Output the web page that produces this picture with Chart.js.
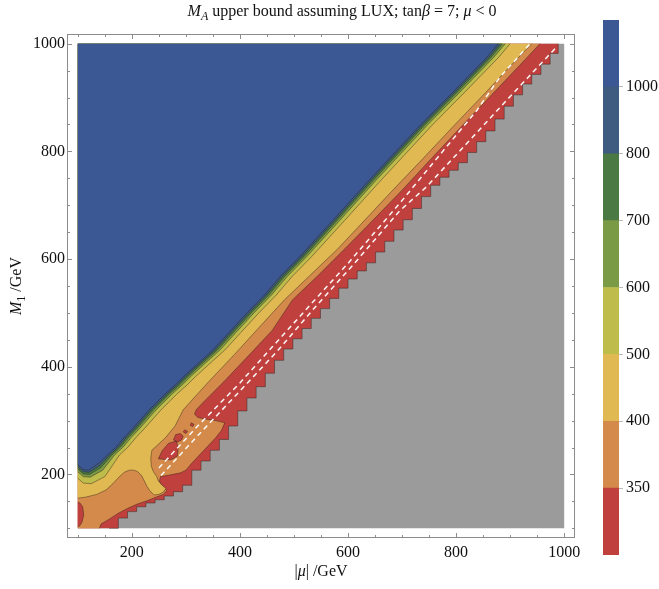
<!DOCTYPE html>
<html>
<head>
<meta charset="utf-8">
<script src="https://cdn.jsdelivr.net/npm/chart.js@4.4.0/dist/chart.umd.min.js"></script>
<style>
  html, body { margin: 0; padding: 0; background: #fff; }
  #wrap { position: relative; width: 659px; height: 589px; }
  #main { position: absolute; left: 0; top: 0; }
  #bar { position: absolute; left: 590px; top: 0; }
</style>
</head>
<body>
<div id="wrap">
  <canvas id="main" width="659" height="589"></canvas>
  <canvas id="bar" width="69" height="589"></canvas>
</div>
<script>
// contour levels and their fill colours (lowest band first)
const levels = [350, 400, 500, 600, 700, 800, 1000];
const bandColors = ['#c0403e', '#d48a4a', '#e1b952', '#bebc4b', '#7b9a45', '#4a7944', '#3f5b7f', '#3b5794'];
const grayColor = '#9b9b9b';

const xTicks = [200, 400, 600, 800, 1000];
const yTicks = [200, 400, 600, 800, 1000];

// points are [|mu|, M1] in GeV
const domain = [[100, 100], [1000, 100], [1000, 1000], [100, 1000]];

// edge of the allowed region (red / gray border), jagged
const grayEdge = [[100, 100], [158, 100], [175, 119], [192, 131], [209, 140], [226, 147], [243, 153], [260, 160],
  [277, 168], [294, 180], [311, 208], [328, 225], [345, 245], [362, 265], [379, 290], [396, 318], [413, 342],
  [430, 363], [447, 388], [464, 412], [481, 433], [498, 452], [515, 471], [532, 490], [549, 508], [566, 527],
  [583, 546], [600, 563], [617, 578], [634, 593], [651, 613], [668, 633], [685, 654], [702, 673], [719, 694],
  [736, 716], [753, 737], [770, 752], [787, 765], [804, 779], [821, 798], [838, 818], [855, 838], [872, 860],
  [889, 884], [906, 905], [923, 925], [940, 943], [957, 962], [974, 982], [989, 1000], [100, 1000]];

const c350 = [[140, 100], [143, 108], [158, 117], [175, 128], [192, 137], [210, 145], [228, 151], [245, 158],
  [258, 163], [265, 170], [255, 180], [251, 187], [253, 196], [270, 199], [290, 203], [300, 208], [310, 220],
  [325, 236], [340, 252], [355, 268], [366, 282], [372, 296], [355, 300], [335, 303], [322, 306], [316, 312],
  [319, 320], [330, 332], [370, 372], [420, 425], [460, 468], [497, 524], [545, 570], [595, 620], [641, 667],
  [700, 728], [760, 793], [820, 857], [880, 920], [930, 973], [955, 1000], [100, 1000], [100, 100]];

const islandLeft = [[100, 103], [104, 105], [108, 112], [111, 125], [109, 140], [104, 147], [100, 149]];
const islandTri = [[249, 229], [256, 244], [268, 258], [282, 262], [286, 250], [284, 234], [272, 227]];
const islandSmall = [[277, 264], [284, 260], [292, 264], [295, 271], [290, 276], [281, 274]];
const islandDot1 = [[295, 279], [300, 276], [303, 280], [298, 283]];
const islandDot2 = [[308, 291], [313, 289], [315, 293], [310, 296]];

const c400 = [[100, 156], [115, 158], [135, 163], [152, 171], [165, 183], [176, 195], [186, 204], [195, 208],
  [204, 208], [211, 205], [218, 198], [222, 190], [228, 178], [233, 170], [241, 162], [250, 163], [258, 167],
  [263, 174], [255, 181], [249, 188], [246, 196], [240, 205], [236, 215], [235, 230], [237, 245], [248, 255],
  [262, 268], [280, 290], [295, 320], [340, 370], [390, 423], [440, 478], [482, 524], [530, 570], [580, 618],
  [626, 667], [680, 725], [740, 788], [800, 852], [860, 915], [900, 958], [940, 1000], [100, 1000]];

const c500 = [[100, 193], [110, 184], [125, 183], [150, 196], [177, 236], [193, 251], [208, 269], [224, 286],
  [239, 303], [254, 320], [270, 336], [285, 351], [302, 366], [317, 381], [342, 404], [372, 431], [402, 464],
  [435, 500], [467, 533], [496, 567], [533, 605], [594, 672], [657, 742], [718, 808], [755, 848], [816, 910],
  [879, 975], [900, 1000], [100, 1000]];

const c600 = [[100, 205], [110, 196], [123, 195], [146, 208], [168, 236], [184, 251], [199, 269], [215, 286],
  [230, 303], [245, 320], [261, 336], [276, 351], [293, 366], [308, 381], [333, 404], [363, 431], [393, 464],
  [426, 500], [458, 533], [487, 567], [524, 605], [585, 672], [648, 742], [709, 808], [746, 848], [807, 910],
  [870, 975], [891, 1000], [100, 1000]];

const c700 = [[100, 210], [110, 201], [122, 200], [143, 213], [163, 236], [179, 251], [194, 269], [210, 286],
  [225, 303], [240, 320], [256, 336], [271, 351], [288, 366], [303, 381], [328, 404], [358, 431], [388, 464],
  [421, 500], [453, 533], [482, 567], [519, 605], [580, 672], [643, 742], [704, 808], [741, 848], [802, 910],
  [865, 975], [886, 1000], [100, 1000]];

const c800 = [[100, 214], [110, 205], [121, 204], [141, 217], [159, 236], [175, 251], [190, 269], [206, 286],
  [221, 303], [236, 320], [252, 336], [267, 351], [284, 366], [299, 381], [324, 404], [354, 431], [384, 464],
  [417, 500], [449, 533], [478, 567], [515, 605], [576, 672], [639, 742], [700, 808], [737, 848], [798, 910],
  [861, 975], [882, 1000], [100, 1000]];

const c1000 = [[100, 218], [110, 209], [120, 208], [139, 221], [155, 236], [171, 251], [186, 269], [202, 286],
  [217, 303], [232, 320], [248, 336], [263, 351], [280, 366], [295, 381], [320, 404], [350, 431], [380, 464],
  [413, 500], [445, 533], [474, 567], [511, 605], [572, 672], [635, 742], [696, 808], [733, 848], [794, 910],
  [857, 975], [878, 1000], [100, 1000]];

// white dashed curves
const dashA = [[250, 212], [320, 288], [400, 370], [460, 437], [523, 507], [600, 592], [696, 704], [757, 778],
  [839, 877], [881, 938], [937, 1000]];
const dashB = [[254, 198], [320, 270], [400, 355], [470, 430], [535, 506], [610, 590], [696, 690], [745, 734],
  [820, 815], [900, 902], [986, 994]];

const serif = '"Liberation Serif", "DejaVu Serif", serif';
const lineColor = 'rgba(40, 30, 25, 0.55)';

// points lying on the border of the plotted square are not part of a contour line
const inside = p => p[0] > 100 && p[0] < 1000 && p[1] > 100 && p[1] < 1000;

function toXY(points) {
  return points.map(p => ({x: p[0], y: p[1]}));
}

function region(points, color, order, stepped = false) {
  return {
    data: toXY(points), showLine: true, fill: 'shape', stepped,
    backgroundColor: color, borderWidth: 0, pointRadius: 0, order
  };
}

// contour line: keep the run of points from the first inner point up to the last one,
// plus the neighbours that touch the border
function contour(points, order, stepped = false, closed = false) {
  let pts = points;
  if (!closed) {
    const first = points.findIndex(inside);
    let last = points.length - 1;
    while (last > 0 && !inside(points[last])) last--;
    pts = points.slice(Math.max(0, first - 1), Math.min(points.length, last + 2));
  } else {
    pts = points.concat([points[0]]);
  }
  return {
    data: toXY(pts), showLine: true, fill: false, stepped,
    borderColor: lineColor, borderWidth: 0.8, pointRadius: 0, order
  };
}

function dashed(points) {
  return {
    data: toXY(points), showLine: true, fill: false,
    borderColor: 'rgba(255,255,255,0.95)', borderWidth: 1.5, borderDash: [5, 4],
    pointRadius: 0, order: 0
  };
}

const islands = [islandLeft, islandTri, islandSmall, islandDot1, islandDot2];
const datasets = [
  region(domain, grayColor, 40),
  region(grayEdge, bandColors[0], 39, 'before'),
  contour(grayEdge, 38, 'before'),
  region(c350, bandColors[1], 37),
  contour(c350, 36)
];
islands.forEach(isl => {
  datasets.push(region(isl, bandColors[0], 35));
  datasets.push(contour(isl, 34, false, isl[0][0] > 100));
});
[[c400, 2], [c500, 3], [c600, 4], [c700, 5], [c800, 6], [c1000, 7]].forEach(([pts, band], i) => {
  datasets.push(region(pts, bandColors[band], 30 - 2 * i));
  datasets.push(contour(pts, 29 - 2 * i));
});
datasets.push(dashed(dashA), dashed(dashB));

// text with italic / subscript pieces
function richText(ctx, parts, x, y, size) {
  const fontOf = p => (p[1] ? 'italic ' : '') + (p[2] ? Math.round(size * 0.72) : size) + 'px ' + serif;
  let total = 0;
  parts.forEach(p => { ctx.font = fontOf(p); total += ctx.measureText(p[0]).width; });
  let cx = x - total / 2;
  ctx.textAlign = 'left';
  ctx.textBaseline = 'middle';
  ctx.fillStyle = '#111';
  parts.forEach(p => {
    ctx.font = fontOf(p);
    ctx.fillText(p[0], cx, y + (p[2] ? size * 0.3 : 0));
    cx += ctx.measureText(p[0]).width;
  });
}

const framePlugin = {
  id: 'frame',
  afterDatasetsDraw(chart) {
    const {ctx, chartArea: a, scales} = chart;
    ctx.save();
    ctx.strokeStyle = '#8c8c8c';
    ctx.lineWidth = 1;
    ctx.strokeRect(a.left + 0.5, a.top + 0.5, a.right - a.left - 1, a.bottom - a.top - 1);
    ctx.beginPath();
    for (let v = 100; v <= 1000; v += 50) {
      const len = v % 200 === 0 ? 5 : 3;
      const px = Math.round(scales.x.getPixelForValue(v)) + 0.5;
      ctx.moveTo(px, a.bottom); ctx.lineTo(px, a.bottom - len);
      ctx.moveTo(px, a.top); ctx.lineTo(px, a.top + len);
      const py = Math.round(scales.y.getPixelForValue(v)) + 0.5;
      ctx.moveTo(a.left, py); ctx.lineTo(a.left + len, py);
      ctx.moveTo(a.right, py); ctx.lineTo(a.right - len, py);
    }
    ctx.stroke();
    ctx.restore();
  },
  afterDraw(chart) {
    const {ctx, chartArea: a} = chart;
    ctx.save();
    richText(ctx, [['M', true], ['A', true, true], [' upper bound assuming LUX; tan'], ['β', true],
      [' = 7; '], ['μ', true], [' < 0']], 342, 12, 16);
    richText(ctx, [['|'], ['μ', true], ['| /GeV']], (a.left + a.right) / 2, 572, 16);
    ctx.translate(17, (a.top + a.bottom) / 2);
    ctx.rotate(-Math.PI / 2);
    richText(ctx, [['M', true], ['1', false, true], [' /GeV']], 0, 0, 16);
    ctx.restore();
  }
};

const tickFont = {family: serif, size: 16};

new Chart(document.getElementById('main'), {
  type: 'scatter',
  data: {datasets},
  options: {
    responsive: false,
    animation: false,
    devicePixelRatio: 1,
    layout: {padding: {top: 34, right: 84, left: 0, bottom: 0}},
    plugins: {legend: {display: false}, tooltip: {enabled: false}},
    scales: {
      x: {
        type: 'linear', min: 80, max: 1020,
        grid: {display: false, drawTicks: false}, border: {display: false},
        afterFit: s => { s.height = 51; },
        afterBuildTicks: s => { s.ticks = xTicks.map(v => ({value: v})); },
        ticks: {font: tickFont, color: '#111', padding: 5, maxRotation: 0, autoSkip: false, callback: v => String(v)}
      },
      y: {
        type: 'linear', min: 82, max: 1018,
        grid: {display: false, drawTicks: false}, border: {display: false},
        afterFit: s => { s.width = 67; },
        afterBuildTicks: s => { s.ticks = yTicks.map(v => ({value: v})); },
        ticks: {font: tickFont, color: '#111', padding: 2, autoSkip: false, callback: v => String(v)}
      }
    }
  },
  plugins: [framePlugin]
});

// colour bar
new Chart(document.getElementById('bar'), {
  type: 'bar',
  data: {
    labels: [''],
    datasets: bandColors.map(c => ({
      data: [1], backgroundColor: c, borderWidth: 0, barPercentage: 1, categoryPercentage: 1
    }))
  },
  options: {
    responsive: false,
    animation: false,
    devicePixelRatio: 1,
    layout: {padding: {top: 20, bottom: 34, left: 13, right: 0}},
    plugins: {legend: {display: false}, tooltip: {enabled: false}},
    scales: {
      x: {display: false, stacked: true},
      y: {
        stacked: true, position: 'right', min: 0, max: 8,
        afterFit: s => { s.width = 40; },
        afterBuildTicks: s => { s.ticks = levels.map((v, i) => ({value: i + 1})); },
        ticks: {font: tickFont, color: '#111', padding: 3, callback: v => levels[v - 1]},
        grid: {drawOnChartArea: false, tickLength: 4, color: '#bbb'},
        border: {display: false}
      }
    }
  }
});
</script>
</body>
</html>
